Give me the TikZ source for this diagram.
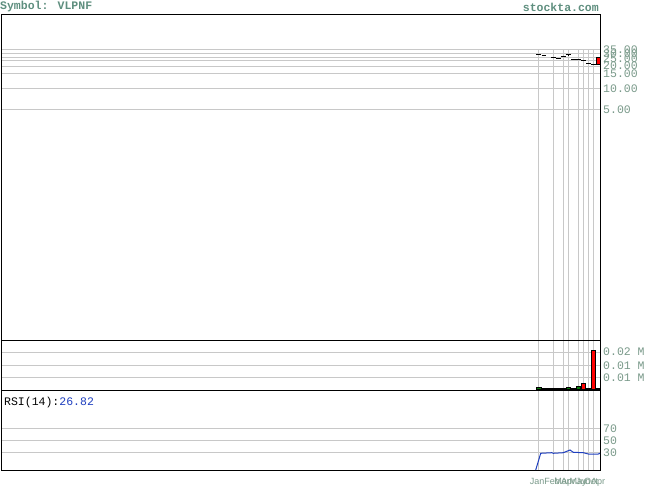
\documentclass[tikz,border=0pt]{standalone}
\usepackage{fontspec}
\newfontfamily\monof{Liberation Mono}
\newfontfamily\sansf{Liberation Sans}
\definecolor{lblc}{HTML}{7A9A8A}
\definecolor{titc}{HTML}{5F8F7F}
\definecolor{grd}{HTML}{C8C8C8}
\definecolor{rsib}{HTML}{1F3FBF}
\definecolor{volg}{HTML}{0A7A0A}
\begin{document}
\begin{tikzpicture}[x=1pt,y=-1pt,
  gridln/.style={grd,line width=1pt},
  panel/.style={draw=black,line width=1pt},
  axlbl/.style={font=\monof\fontsize{11.5}{12}\selectfont,text=lblc,anchor=west,inner sep=0pt},
  toplbl/.style={font=\monof\bfseries\fontsize{11.5}{12}\selectfont,text=titc,inner sep=0pt},
  monlbl/.style={font=\sansf\fontsize{9}{10}\selectfont,text=lblc,inner sep=0pt,anchor=base},
  tick/.style={black,line width=1pt},
  upbar/.style={fill=red,draw=black,line width=0.6pt},
  dnbar/.style={fill=volg,draw=black,line width=0.6pt}]
\useasboundingbox (0,0) rectangle (655,486);
\fill[white] (0,0) rectangle (655,486);
% header
\node[toplbl,anchor=west] (title) at (0,7) {Symbol: VLPNF};
\node[toplbl,anchor=east] (site) at (599,7) {stockta.com};
% horizontal grid lines (price)
\foreach \yy in {50,54,57.5,61,67,73.5,88.5,109.5}
  \draw[gridln] (1,\yy) -- (600,\yy);
% volume grid
\foreach \yy in {352,365.7,377.3}
  \draw[gridln] (1,\yy) -- (600,\yy);
% rsi grid
\foreach \yy in {428.3,440.7,452.7}
  \draw[gridln] (1,\yy) -- (600,\yy);
% vertical grid lines
\foreach \xx in {538,553,563,568,578,583,588,593}
  \draw[gridln] (\xx,50) -- (\xx,470);
% panels
\draw[panel] (1,15) rectangle (600,340);
\draw[panel] (1,340) rectangle (600,390);
\draw[panel] (1,390) rectangle (600,470);
% price labels
\node[axlbl] (p35) at (603,50) {35.00};
\node[axlbl] (p30) at (603,54) {30.00};
\node[axlbl] (p25) at (603,58.5) {25.00};
\node[axlbl] (p20) at (603,66) {20.00};
\node[axlbl] (p15) at (603,73.5) {15.00};
\node[axlbl] (p10) at (603,88.5) {10.00};
\node[axlbl] (p05) at (603,109.5) {5.00};
% volume labels
\node[axlbl] (v1) at (603,352) {0.02 M};
\node[axlbl] (v2) at (603,365.7) {0.01 M};
\node[axlbl] (v3) at (603,377.3) {0.01 M};
% rsi labels
\node[axlbl] (r70) at (603,428.3) {70};
\node[axlbl] (r50) at (603,440.7) {50};
\node[axlbl] (r30) at (603,452.7) {30};
\node[font=\monof\fontsize{11.5}{12}\selectfont,anchor=west,inner sep=0pt] (rsi) at (4,403) {RSI(14):\textcolor{rsib}{26.82}};
% price ticks
\draw[tick] (536,54.3) -- (541,54.3);
\draw[tick] (541.5,55.7) -- (546,55.7);
\draw[tick] (551,57.3) -- (556,57.3);
\draw[tick] (555.7,58.3) -- (560.7,58.3);
\draw[tick] (561,57) -- (566,57);
\draw[tick] (565.7,55) -- (570.7,55);
\draw[tick] (568,54) -- (568,56.5);
\draw[tick] (571,59.3) -- (581,59.3);
\draw[tick] (581,61) -- (586,61);
\draw[tick] (586,64) -- (591,64);
\draw[tick] (591,65) -- (595.5,65);
\draw[upbar] (596,57.3) rectangle (600,64.3);
% volume bars
\draw[black,line width=1.5pt] (536,389) -- (600,389);
\draw[dnbar] (536,387.5) rectangle (541,389.5);
\draw[dnbar] (566,387.5) rectangle (570.5,389.5);
\draw[dnbar] (576,386.5) rectangle (580.5,389.5);
\draw[upbar] (581,383.3) rectangle (585.3,389.5);
\draw[upbar] (591,350.3) rectangle (595.3,389.5);
% rsi line
\draw[rsib,line width=1pt] (535.7,470) -- (540.7,453.3) -- (551.7,452.7) -- (553.3,453.3) -- (563.3,452.7) -- (568.3,450.7) -- (570,450) -- (573.3,452.3) -- (583.3,452.7) -- (588.3,454) -- (598.3,454) -- (600,453.3);
% month labels
\node[monlbl] (mjan) at (537,484.5) {Jan};
\node[monlbl] (mfeb) at (552,484.5) {Feb};
\node[monlbl] (mmar) at (562,484.5) {Mar};
\node[monlbl] (mapr) at (568,484.5) {Apr};
\node[monlbl] (mmay) at (578,484.5) {May};
\node[monlbl] (mjun) at (583,484.5) {Jun};
\node[monlbl] (moct) at (591,484.5) {Oct};
\node[monlbl] (mapr2) at (598,484.5) {Apr};
\end{tikzpicture}
\end{document}
